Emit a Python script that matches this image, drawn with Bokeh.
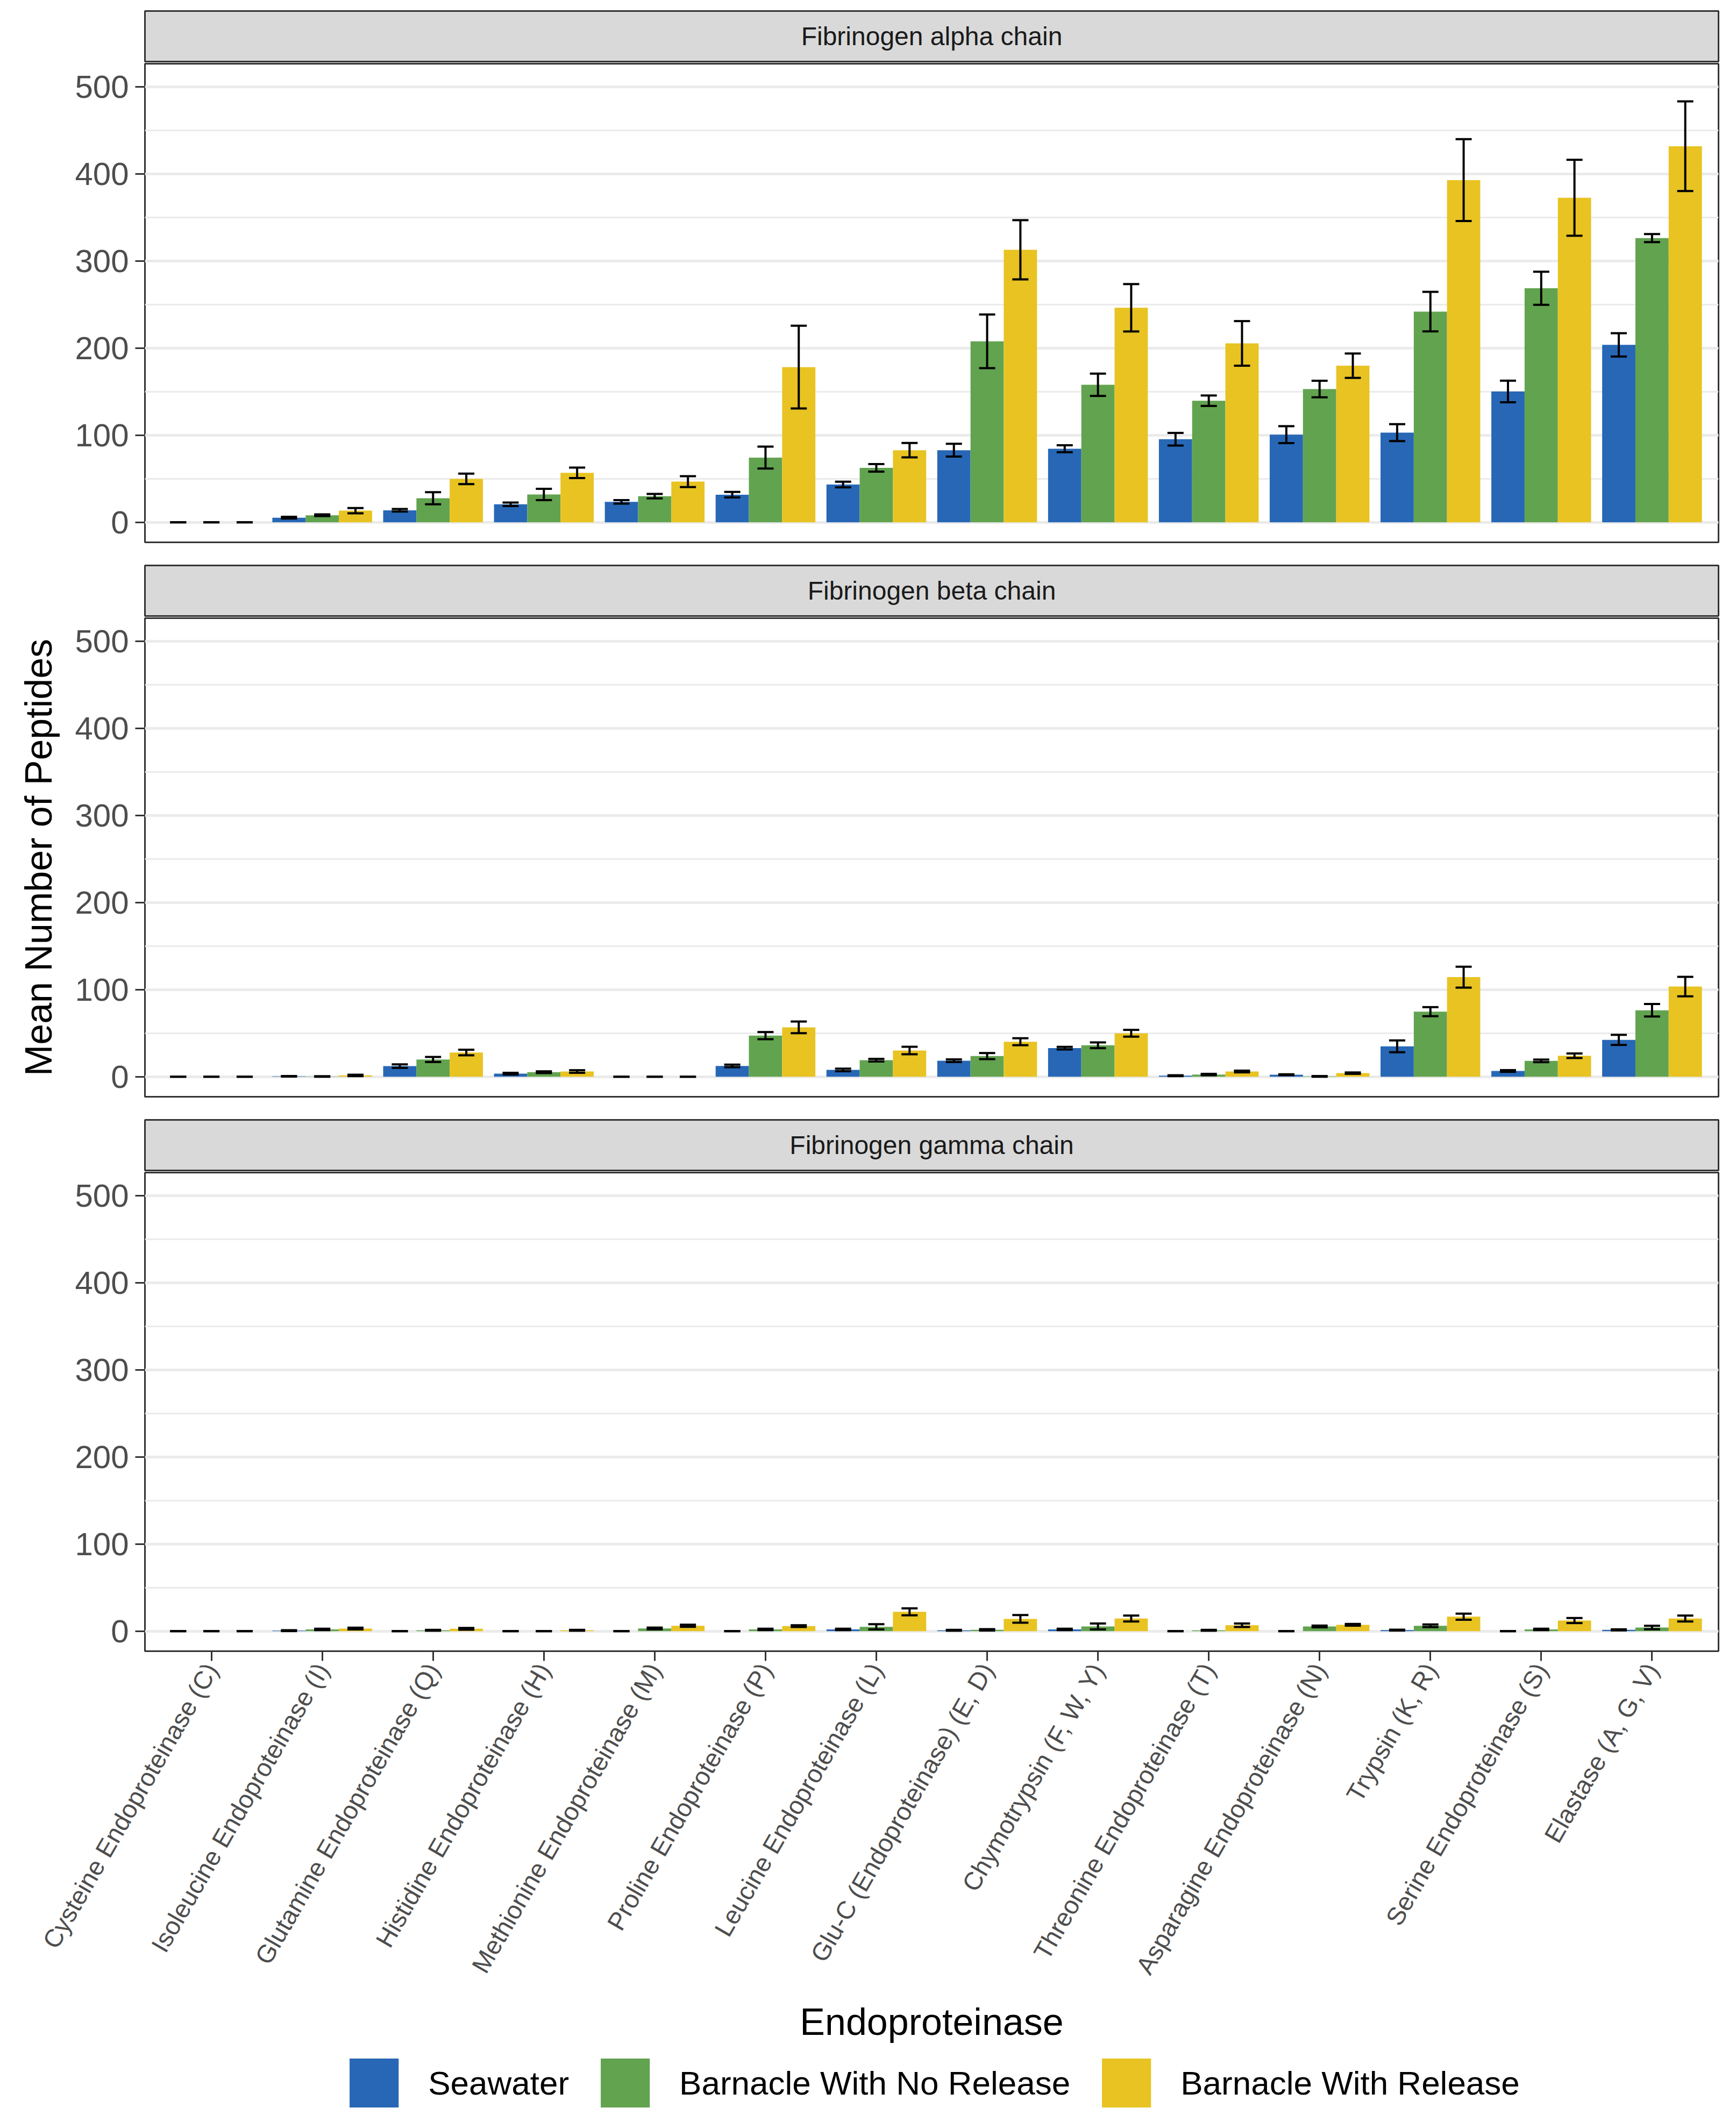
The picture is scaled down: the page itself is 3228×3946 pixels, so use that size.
import math
from bokeh.plotting import figure
from bokeh.models import (ColumnDataSource, FactorRange, Range1d, Whisker, TeeHead,
                          SingleIntervalTicker, Legend, LegendItem)
from bokeh.transform import dodge
from bokeh.layouts import column
from bokeh.core.properties import value
from bokeh.embed import file_html
from bokeh.resources import INLINE

# categories in plotting order
categories = [
    "Cysteine Endoproteinase (C)", "Isoleucine Endoproteinase (I)",
    "Glutamine Endoproteinase (Q)", "Histidine Endoproteinase (H)",
    "Methionine Endoproteinase (M)", "Proline Endoproteinase (P)",
    "Leucine Endoproteinase (L)", "Glu-C (Endoproteinase) (E, D)",
    "Chymotrypsin (F, W, Y)", "Threonine Endoproteinase (T)",
    "Asparagine Endoproteinase (N)", "Trypsin (K, R)",
    "Serine Endoproteinase (S)", "Elastase (A, G, V)",
]
series_names = ["Seawater", "Barnacle With No Release", "Barnacle With Release"]
colors = ["#2767B6", "#62A34F", "#E8C322"]
panel_titles = ["Fibrinogen alpha chain", "Fibrinogen beta chain", "Fibrinogen gamma chain"]

# Fibrinogen alpha chain (mean, error)
alpha_sea = [0, 5.3, 13.8, 20.7, 23.5, 31.7, 43.4, 82.8, 84.4, 95.4, 100.6, 103, 150.2, 203.7]
alpha_sea_err = [0, 1, 1.5, 2, 2, 3.2, 3.2, 7.3, 4, 7.3, 9.7, 9.7, 12.4, 13.4]
alpha_nr = [0, 8.1, 27.6, 32, 30, 74.3, 62.5, 207.8, 157.9, 139.6, 153, 241.9, 268.7, 326.3]
alpha_nr_err = [0, 1, 6.9, 6.5, 2.5, 12.6, 4.3, 30.8, 12.8, 6, 9.5, 22.7, 19, 4.7]
alpha_rel = [0, 13.4, 49.9, 56.8, 46.7, 178.2, 82.8, 312.9, 246.3, 205.4, 179.8, 392.9, 372.6, 431.8]
alpha_rel_err = [0, 3, 6, 6, 6.3, 47.5, 8.3, 34, 27.2, 25.6, 14, 47, 43.6, 51.5]

# Fibrinogen beta chain
beta_sea = [0, 0.5, 12.2, 3.5, 0, 12.4, 7.8, 18.4, 32.8, 1.2, 2.3, 34.9, 6.6, 42.3]
beta_sea_err = [0, 0.3, 2, 1, 0, 1.5, 1.5, 1.5, 1.5, 0.5, 0.5, 6.8, 1, 5.8]
beta_nr = [0, 0.3, 19.8, 5.2, 0, 47.2, 19, 23.7, 36.1, 2.5, 0.4, 74.7, 18.2, 76.3]
beta_nr_err = [0, 0.3, 2.9, 1, 0, 4.1, 1.5, 3.5, 3.3, 0.8, 0.4, 5.2, 1.5, 7.2]
beta_rel = [0, 1.5, 27.8, 6, 0, 56.7, 30.1, 40.2, 49.9, 6, 4.1, 114.3, 24.1, 103.5]
beta_rel_err = [0, 0.8, 3.2, 1.5, 0, 6.7, 4.3, 4, 3.9, 1, 0.8, 12, 2.6, 11.2]

# Fibrinogen gamma chain
gamma_sea = [0, 0.6, 0, 0, 0, 0, 2, 1, 2, 0, 0, 1.2, 0, 1.5]
gamma_sea_err = [0, 0.5, 0, 0, 0, 0, 0.8, 0.5, 0.8, 0, 0, 0.5, 0, 0.6]
gamma_nr = [0, 2, 1, 0, 3.1, 2, 5, 1.5, 5.4, 1, 5.4, 6.2, 2, 4.1]
gamma_nr_err = [0, 0.8, 0.5, 0, 1, 0.8, 3, 0.8, 3.4, 0.5, 1, 1.5, 0.8, 2]
gamma_rel = [0, 3, 2.7, 1, 6.2, 5.8, 22.2, 14.1, 14.5, 6.8, 7.3, 16.6, 12.2, 14.5]
gamma_rel_err = [0, 1, 1, 0.5, 1.2, 1, 4, 4.4, 3.4, 2, 1, 3.5, 2.9, 3.4]

FONT = "Liberation Sans"
FRAME_W = 2926
LEFT = 269
RIGHT = 16

x_range = FactorRange(factors=categories, range_padding=0.2 / len(categories))
y_range = Range1d(-23, 526.5)


def make_strip(title, top):
    s = figure(frame_width=FRAME_W, frame_height=94, x_range=(0, 1), y_range=(0, 1),
               x_axis_type=None, y_axis_type=None, toolbar_location=None,
               output_backend="svg", min_border_left=LEFT, min_border_right=RIGHT,
               min_border_top=top, min_border_bottom=2)
    s.background_fill_color = "#D9D9D9"
    s.outline_line_color = "#333333"
    s.outline_line_width = 3
    s.text(x=[0.5], y=[0.5], text=[title], text_align="center", text_baseline="middle",
           text_font=value(FONT), text_font_size="48px", text_color="#1A1A1A")
    return s


def make_panel(sea, sea_err, nr, nr_err, rel, rel_err, last=False, ylabel=None):
    data = dict(cat=categories)
    for key, m, e in (("sea", sea, sea_err), ("nr", nr, nr_err), ("rel", rel, rel_err)):
        data[key] = m
        data[key + "_hi"] = [a + b for a, b in zip(m, e)]
        data[key + "_lo"] = [a - b for a, b in zip(m, e)]
    src = ColumnDataSource(data)

    p = figure(x_range=x_range, y_range=y_range, frame_width=FRAME_W, frame_height=890,
               toolbar_location=None, output_backend="svg",
               x_axis_location="below" if last else None,
               min_border_left=LEFT, min_border_right=RIGHT, min_border_top=2,
               min_border_bottom=744 if last else 41)
    p.outline_line_color = "#333333"
    p.outline_line_width = 3
    p.xgrid.visible = False
    p.ygrid.grid_line_color = "#EBEBEB"
    p.ygrid.grid_line_width = 5
    p.ygrid.minor_grid_line_color = "#EBEBEB"
    p.ygrid.minor_grid_line_width = 3

    p.yaxis.ticker = SingleIntervalTicker(interval=100, num_minor_ticks=2)
    p.yaxis.axis_line_color = None
    p.yaxis.minor_tick_line_color = None
    p.yaxis.major_tick_line_color = "#333333"
    p.yaxis.major_tick_line_width = 3
    p.yaxis.major_tick_out = 18
    p.yaxis.major_tick_in = 0
    p.yaxis.major_label_standoff = 12
    p.yaxis.major_label_text_font = FONT
    p.yaxis.major_label_text_font_size = "60px"
    p.yaxis.major_label_text_color = "#4D4D4D"
    if ylabel:
        p.yaxis.axis_label = ylabel
        p.yaxis.axis_label_text_font = FONT
        p.yaxis.axis_label_text_font_size = "70px"
        p.yaxis.axis_label_text_font_style = "normal"
        p.yaxis.axis_label_text_color = "black"
        p.yaxis.axis_label_standoff = 25

    for key, off, col in (("sea", -0.3, colors[0]), ("nr", 0.0, colors[1]), ("rel", 0.3, colors[2])):
        p.vbar(x=dodge("cat", off, range=x_range), top=key, width=0.3, source=src,
               fill_color=col, line_color=None)
        w = Whisker(base=dodge("cat", off, range=x_range), upper=key + "_hi", lower=key + "_lo",
                    source=src, line_color="black", line_width=4, level="annotation",
                    upper_head=TeeHead(size=30, line_width=4, line_color="black"),
                    lower_head=TeeHead(size=30, line_width=4, line_color="black"))
        p.add_layout(w)

    if last:
        p.xaxis.axis_line_color = None
        p.xaxis.major_tick_line_color = "#333333"
        p.xaxis.major_tick_line_width = 3
        p.xaxis.major_tick_out = 18
        p.xaxis.major_tick_in = 0
        p.xaxis.major_label_orientation = math.pi / 3
        p.xaxis.major_label_standoff = 8
        p.xaxis.major_label_text_font = FONT
        p.xaxis.major_label_text_font_size = "47px"
        p.xaxis.major_label_text_color = "#4D4D4D"
        p.xaxis.axis_label = "Endoproteinase"
        p.xaxis.axis_label_text_font = FONT
        p.xaxis.axis_label_text_font_size = "70px"
        p.xaxis.axis_label_text_font_style = "normal"
        p.xaxis.axis_label_text_color = "black"
        p.xaxis.axis_label_standoff = 25
    return p


def make_legend_row():
    # a thin strip under the last panel that only holds the legend
    f = figure(frame_width=FRAME_W, frame_height=118, x_range=(0, 1), y_range=(0, 1),
               x_axis_type=None, y_axis_type=None, toolbar_location=None,
               output_backend="svg", min_border_left=LEFT, min_border_right=RIGHT,
               min_border_top=0, min_border_bottom=0)
    f.outline_line_color = None
    items = []
    for name, col in zip(series_names, colors):
        # zero-height bar: nothing visible, only feeds the legend swatch
        r = f.vbar(x=[0.5], top=[0], bottom=0, width=0.3, fill_color=col, line_color=None)
        items.append(LegendItem(label=name, renderers=[r]))
    legend = Legend(items=items, orientation="horizontal", location="center",
                    glyph_width=114, glyph_height=114, label_standoff=44, spacing=47,
                    label_text_font=FONT, label_text_font_size="62px",
                    label_text_color="black", padding=2, margin=0,
                    border_line_color=None, background_fill_alpha=0)
    f.add_layout(legend)
    return f


s1 = make_strip(panel_titles[0], 20)
p1 = make_panel(alpha_sea, alpha_sea_err, alpha_nr, alpha_nr_err, alpha_rel, alpha_rel_err)
s2 = make_strip(panel_titles[1], 2)
p2 = make_panel(beta_sea, beta_sea_err, beta_nr, beta_nr_err, beta_rel, beta_rel_err,
                ylabel="Mean Number of Peptides")
s3 = make_strip(panel_titles[2], 2)
p3 = make_panel(gamma_sea, gamma_sea_err, gamma_nr, gamma_nr_err, gamma_rel, gamma_rel_err,
                last=True)
leg = make_legend_row()

layout = column(s1, p1, s2, p2, s3, p3, leg, spacing=0)

open("out.html", "w").write(file_html(layout, INLINE))
